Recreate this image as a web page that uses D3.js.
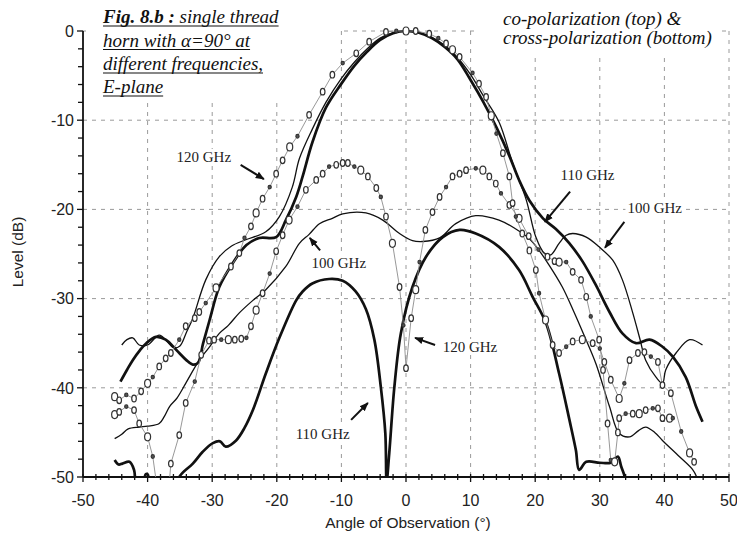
<!DOCTYPE html>
<html>
<head>
<meta charset="utf-8">
<script src="https://cdn.jsdelivr.net/npm/d3@7"></script>
<style>
body { margin: 0; background: #fff; }
</style>
</head>
<body>
<svg id="chart" width="737" height="536"></svg>
<script>
// tick labels
var angleTicks = [-50, -40, -30, -20, -10, 0, 10, 20, 30, 40, 50];
var levelTicks = [0, -10, -20, -30, -40, -50];

// co-polarization, [angle (deg), level (dB)]
var co110 = [[-44.2,-39.3],[-43.2,-38],[-42.3,-36.9],[-41.2,-35.8],[-40.2,-35.0],[-38.7,-34.3],[-37.2,-34.6],
    [-36,-35.4],[-35.1,-36.1],[-34,-36.9],[-33,-37.4],[-32.2,-37.2],[-31.4,-35],[-30.4,-32.4],[-28.9,-28.7],
    [-26.8,-26.0],[-24.7,-24.0],[-22.7,-23.2],[-20.1,-23.1],[-18.6,-21.2],[-17,-18.6],[-16,-16.3],[-14.5,-12.5],
    [-12.4,-8.6],[-10,-5.9],[-8,-3.9],[-6,-2.3],[-4,-1.0],[-2,-0.25],[0,0],[2,-0.2],[4,-0.8],[6,-1.8],[8,-3.2],
    [10,-5.5],[12,-8.0],[14,-10.8],[16,-14],[17.5,-16.7],[19.1,-19],[21.2,-21],[23.2,-22.2],[25.3,-23.8],
    [27.3,-25.8],[29.4,-28.5],[31.5,-31.5],[33.5,-33.9],[35.6,-35],[37.7,-34.6],[39.7,-35.4],[41.3,-36.5],
    [43.3,-38.8],[44.9,-42.1],[45.9,-43.8]];
var co100 = [[-44,-35.2],[-43.2,-34.6],[-42.3,-34.4],[-41.3,-35.2],[-40,-35.2],[-38.2,-34.1],[-37,-34.8],
    [-36,-35.5],[-35,-35.3],[-34,-33.8],[-33,-32.2],[-31,-27.9],[-28.9,-25.3],[-27,-24.1],[-24.8,-23.4],
    [-21.7,-22.5],[-19.6,-20.8],[-17.6,-17.5],[-16.5,-14.3],[-14.5,-11],[-12.4,-8],[-10,-5.3],[-8,-3.5],
    [-6,-2.0],[-4,-0.8],[-2,-0.2],[0,0],[2,-0.2],[4,-0.7],[6,-1.6],[8,-3],[10,-4.9],[12,-7.3],[14.4,-10.2],
    [16.5,-14.8],[18.6,-18.9],[20.1,-23.1],[21.4,-24.9],[22.4,-25.1],[23.7,-23.8],[24.8,-22.9],[25.8,-22.7],
    [27.9,-23.1],[29.9,-24.2],[32,-25.7],[33.5,-27.9],[35.1,-31.6],[36.2,-34.5],[37.1,-36.9],[38.7,-38.8],
    [39.7,-39.5],[40.2,-38.0],[41.8,-36.1],[43.9,-34.6],[45.9,-35.2]];
var co120 = [[-45.1,-41],[-44.4,-41.4],[-43.3,-40.8],[-42.1,-41.2],[-41,-40.4],[-40,-39.5],[-39.2,-38.8],
    [-38.2,-37.6],[-37.2,-36.7],[-36.4,-36.1],[-35.1,-34.6],[-34.1,-33.1],[-32.7,-32.2],[-32,-31.5],[-31,-30.5],
    [-29.4,-28.8],[-27.1,-26.4],[-25.8,-24.9],[-25,-23.2],[-24,-21.9],[-23.2,-20.4],[-22.2,-18.8],[-21.1,-17.5],
    [-20.1,-16],[-19.1,-14.5],[-18,-13],[-16.8,-11.8],[-15,-9.4],[-12.9,-6.8],[-11.4,-4.9],[-9.8,-3.6],
    [-7.7,-2.5],[-5.7,-1.2],[-3.1,-0.1],[-1.5,0],[0,0],[1.5,0],[3.6,-0.3],[5,-0.8],[6.2,-1.4],[7.2,-2.1],
    [8.3,-2.9],[10.3,-4.7],[11.3,-5.9],[12.4,-7.4],[13.2,-9.5],[14,-11.5],[15,-13.7],[16,-16.3],[16.5,-19.3],
    [17,-20.8],[18,-22.7],[19.1,-24.6],[20.1,-26.8],[20.6,-29.4],[21.6,-32.4],[22.7,-35.2],[23.7,-36.1],
    [24.8,-35.4],[25.8,-34.8],[27.3,-34.6],[28.9,-35],[30,-35.6],[30.7,-37.1],[31.7,-39.1],[33,-41.2],
    [33.8,-39.5],[34.6,-36.9],[35.9,-36.1],[36.9,-36],[37.9,-36.5],[39,-37.1],[39.7,-39.7],[41,-40.6],
    [42.6,-44.9],[43.9,-47.3],[44.6,-48.3]];

// cross-polarization
var cross110 = [[-45.1,-48.1],[-44.5,-48.6],[-43.9,-48.5],[-42.8,-48.3],[-42.1,-49.2],[-41.7,-51],[-40.8,-51],
    [-40.3,-49.7],[-40,-49.7],[-39.6,-51],[-38,-53],[-36,-53],[-35.1,-50],[-33,-48.5],[-31.5,-47.2],
    [-29.9,-46.2],[-28.8,-46],[-27.9,-46.6],[-26.3,-45.9],[-25,-44.5],[-23.7,-42.5],[-21.7,-38.4],[-19.6,-34.4],
    [-17,-30.2],[-16,-29.2],[-14.5,-28.3],[-11.9,-27.8],[-9.8,-28.0],[-7.8,-29.2],[-6.2,-31.2],[-4.9,-34.6],
    [-3.9,-39.9],[-3.2,-45.1],[-3.0,-50.5],[-2.6,-47.4],[-1.8,-39.9],[-0.8,-33.9],[1,-28.7],[3.1,-25.3],
    [5.7,-23.1],[8.3,-22.3],[10.8,-22.7],[14.4,-24.2],[17.5,-26.8],[19.6,-29.8],[21.7,-32.8],[23.7,-38.4],
    [25.3,-43.6],[26.3,-47],[26.8,-49.2],[27.9,-48.3],[30,-48.4],[31.7,-48.4],[32.8,-47.7],[33.3,-48.8],
    [33.8,-49.8],[34.3,-51]];
var cross100 = [[-45.1,-45.7],[-44,-45.2],[-43,-44.6],[-41.3,-44.4],[-40,-44.3],[-38.2,-44.0],[-37.4,-43.2],
    [-36.6,-42.1],[-35.5,-41.2],[-34.1,-39.5],[-32,-36.9],[-30.5,-35.5],[-28.9,-33.9],[-27.5,-33],[-25.8,-31.6],
    [-23.7,-30.2],[-21.7,-29.0],[-18.6,-26.4],[-16.5,-23.8],[-15,-22.8],[-13.4,-21.6],[-11.4,-21],[-9.8,-20.5],
    [-6.2,-20.4],[-3.6,-21.2],[-1,-22.7],[1,-23.5],[2.6,-23.6],[5.2,-23.2],[7.7,-21.6],[10.8,-20.7],
    [14.4,-21.2],[17,-22.2],[19.1,-23.3],[20.5,-24.5],[22.2,-26.3],[24.2,-28.7],[26,-31.5],[27.5,-34],
    [29.4,-37.3],[31.5,-42.1],[33,-45.1],[34.6,-45.5],[36,-44.8],[37.1,-44.4],[38.5,-45],[39.7,-45.9],
    [42.3,-47.7],[44.4,-49.2],[45,-50]];
var cross120 = [[-45.1,-43],[-44.4,-42.7],[-43.3,-42.1],[-42.1,-42.5],[-41.3,-44],[-40,-45.5],[-39.2,-47.7],
    [-38.7,-50.3],[-37.6,-53],[-36.6,-50.3],[-36.4,-48.5],[-35.1,-45.3],[-34.1,-41.7],[-32.7,-39.3],
    [-31.7,-36.3],[-30.5,-34.7],[-29.7,-34.6],[-28.6,-34.6],[-27.5,-34.6],[-26.5,-34.6],[-25.5,-34.5],
    [-24.7,-34.4],[-24,-33.1],[-23.2,-31.3],[-22.2,-29.4],[-21.1,-27.2],[-20.1,-24.7],[-19.1,-22.9],
    [-18.1,-21.2],[-16.8,-19.7],[-15.5,-17.8],[-13.9,-16.7],[-12.9,-16],[-11.9,-15.2],[-10.8,-15],[-9.8,-14.8],
    [-9,-14.8],[-8,-15.2],[-7,-15.6],[-5.9,-16.3],[-4.6,-17.6],[-3.9,-18.6],[-3.1,-20.8],[-2.1,-23.8],
    [-1,-28.7],[-0.4,-33],[0,-37.8],[0.8,-32.2],[1.5,-29],[2.1,-25.9],[3,-22.3],[4.1,-20.3],[5.2,-18.6],
    [6.2,-17.5],[7.2,-16.3],[8.3,-16],[9.3,-15.6],[10.8,-15.4],[11.9,-15.6],[12.9,-16.3],[13.9,-17.1],
    [14.7,-18.2],[16,-19.5],[17.5,-21],[19,-23],[20.5,-24.5],[21.9,-25.3],[23,-25.8],[23.7,-25.9],[24.8,-25.9],
    [25.8,-27],[27.1,-27.9],[27.9,-29.8],[28.6,-32],[29.9,-34.6],[30.5,-38],[31.2,-44],[31.7,-48.1],
    [32.3,-48.3],[32.8,-45],[33,-43.4],[34,-42.9],[35.1,-42.9],[36.1,-42.9],[37.1,-42.5],[38.2,-42.3],
    [39,-42.3],[39.7,-43.4],[40.8,-43.4],[41.3,-43.4]];

var svg = d3.select("svg#chart");

var x = d3.scaleLinear().domain([-50, 50]).range([83, 729]),
    y = d3.scaleLinear().domain([-50, 0]).range([477, 31]);

var sans = "'Liberation Sans', Arial, sans-serif",
    serif = "'Liberation Serif', 'Times New Roman', serif";

svg.append("defs").append("clipPath").attr("id", "plot")
    .append("rect").attr("x", x(-50)).attr("y", 20)
    .attr("width", x(50) - x(-50)).attr("height", y(-50) - 20);

svg.append("defs").append("marker").attr("id", "head")
    .attr("viewBox", "0 0 10 10").attr("refX", 9).attr("refY", 5)
    .attr("markerWidth", 9).attr("markerHeight", 9).attr("markerUnits", "userSpaceOnUse")
    .attr("orient", "auto")
    .append("path").attr("d", "M0,1 L10,5 L0,9 Z").attr("fill", "#111");

// grid
var grid = svg.append("g").attr("stroke", "#9a9a9a").attr("stroke-width", 1)
    .attr("stroke-dasharray", "4,5");
grid.selectAll("line.v").data(angleTicks.filter(d => d > -50)).enter().append("line")
    .attr("x1", d => x(d)).attr("x2", d => x(d))
    .attr("y1", y(0)).attr("y2", y(-50));
grid.selectAll("line.h").data(levelTicks.filter(d => d > -50)).enter().append("line")
    .attr("x1", x(-50)).attr("x2", x(50))
    .attr("y1", d => y(d)).attr("y2", d => y(d));

// white boxes behind the notes
svg.append("rect").attr("x", 86).attr("y", 0).attr("width", 253).attr("height", 101).attr("fill", "#fff");
svg.append("rect").attr("x", 478).attr("y", 0).attr("width", 244).attr("height", 58).attr("fill", "#fff");

var labelBg = svg.append("g");

// axes
var minorY = d3.range(-50, 0.1, 2);
svg.append("g").selectAll("line").data(minorY).enter().append("line")
    .attr("x1", d => x(-50) - (d % 10 === 0 ? 6 : 5)).attr("x2", x(-50))
    .attr("y1", d => y(d)).attr("y2", d => y(d))
    .attr("stroke", "#111").attr("stroke-width", 1.3);
var minorX = d3.range(-50, 50.1, 2);
svg.append("g").selectAll("line").data(minorX).enter().append("line")
    .attr("x1", d => x(d)).attr("x2", d => x(d))
    .attr("y1", d => y(-50) - 3).attr("y2", d => y(-50) + (d % 10 === 0 ? 5 : 3))
    .attr("stroke", "#111").attr("stroke-width", 1.3);
svg.append("line").attr("x1", x(-50)).attr("x2", x(-50)).attr("y1", y(0)).attr("y2", y(-50))
    .attr("stroke", "#111").attr("stroke-width", 1.8);
svg.append("line").attr("x1", x(-50)).attr("x2", x(50)).attr("y1", y(-50)).attr("y2", y(-50))
    .attr("stroke", "#111").attr("stroke-width", 1.8);

svg.append("g").selectAll("text").data(levelTicks).enter().append("text")
    .attr("x", 74).attr("y", d => y(d)).attr("dy", "0.36em")
    .attr("text-anchor", "end").attr("font-family", sans).attr("font-size", 16)
    .attr("fill", "#222").text(d => d);
svg.append("g").selectAll("text").data(angleTicks).enter().append("text")
    .attr("x", d => x(d)).attr("y", 506)
    .attr("text-anchor", "middle").attr("font-family", sans).attr("font-size", 16)
    .attr("fill", "#222").text(d => d);

svg.append("text").attr("x", 408).attr("y", 528).attr("text-anchor", "middle")
    .attr("font-family", sans).attr("font-size", 15.5).attr("fill", "#222")
    .text("Angle of Observation (°)");
svg.append("text").attr("transform", "translate(23,252) rotate(-90)").attr("text-anchor", "middle")
    .attr("font-family", sans).attr("font-size", 15.5).attr("fill", "#222")
    .text("Level (dB)");

// curves
var plot = svg.append("g").attr("clip-path", "url(#plot)");

var smooth = d3.line().x(d => x(d[0])).y(d => y(d[1])).curve(d3.curveCatmullRom.alpha(0.5));
var straight = d3.line().x(d => x(d[0])).y(d => y(d[1]));

function solid(data, width) {
    plot.append("path").datum(data).attr("d", smooth)
        .attr("fill", "none").attr("stroke", "#111")
        .attr("stroke-width", width).attr("stroke-linejoin", "round");
}

function circles(data) {
    plot.append("path").datum(data).attr("d", straight)
        .attr("fill", "none").attr("stroke", "#8c8c8c").attr("stroke-width", 0.9);
    var g = plot.append("g");
    g.selectAll("ellipse").data(data.filter(d => d[1] > -50)).enter().append("ellipse")
        .attr("cx", d => x(d[0])).attr("cy", d => y(d[1]))
        .attr("rx", (d, i) => i % 4 === 2 ? 1.6 : i % 5 === 0 ? 3 : 2.3)
        .attr("ry", (d, i) => i % 4 === 2 ? 1.8 : i % 5 === 0 ? 4 : 3.3)
        .attr("fill", (d, i) => i % 4 === 2 ? "#555" : "#fff")
        .attr("stroke", "#333").attr("stroke-width", 1.2);
}

solid(cross100, 1.3);
solid(co100, 1.3);
solid(cross110, 2.7);
solid(co110, 2.7);
circles(cross120);
circles(co120);

// notes
var title = svg.append("g").attr("font-family", serif).attr("font-style", "italic")
    .attr("font-size", 19).attr("fill", "#111");
var t1 = title.append("text").attr("x", 103).attr("y", 23);
t1.append("tspan").attr("font-weight", "bold").text("Fig. 8.b :");
t1.append("tspan").text(" single thread");
title.append("text").attr("x", 103).attr("y", 46.5).text("horn with α=90° at");
title.append("text").attr("x", 103).attr("y", 70).text("different frequencies,");
title.append("text").attr("x", 103).attr("y", 93).text("E-plane");
title.selectAll("text").each(function() {
    var w = this.getComputedTextLength(),
        ty = +d3.select(this).attr("y") + 3;
    title.append("line").attr("x1", 103).attr("x2", 103 + w)
        .attr("y1", ty).attr("y2", ty).attr("stroke", "#111").attr("stroke-width", 1.2);
});

var note = svg.append("g").attr("font-family", serif).attr("font-style", "italic")
    .attr("font-size", 19).attr("fill", "#111");
note.append("text").attr("x", 503).attr("y", 25).text("co-polarization (top) &");
note.append("text").attr("x", 503).attr("y", 44).text("cross-polarization (bottom)");

// frequency labels with arrows: label centre, arrow start, arrow tip (angle, dB)
var labels = [
    { text: "120 GHz", at: [-31.3, -14.1], from: [-25.6, -15.0], to: [-22.0, -16.6] },
    { text: "110 GHz", at: [28.1, -16.1], from: [25.4, -18.0], to: [21.5, -21.4] },
    { text: "100 GHz", at: [38.5, -19.8], from: [33.8, -21.4], to: [30.8, -24.3] },
    { text: "100 GHz", at: [-10.4, -26.0], from: [-13.3, -24.6], to: [-14.9, -23.2] },
    { text: "120 GHz", at: [9.9, -35.4], from: [4.5, -35.2], to: [1.4, -34.4] },
    { text: "110 GHz", at: [-12.9, -45.1], from: [-8.5, -43.6], to: [-5.9, -41.7] }
];
var lab = svg.append("g");
labels.forEach(function(l) {
    var t = lab.append("text").attr("x", x(l.at[0])).attr("y", y(l.at[1])).attr("dy", "0.35em")
        .attr("text-anchor", "middle").attr("font-family", serif).attr("font-size", 15)
        .attr("fill", "#222").text(l.text);
    var b = t.node().getBBox();
    labelBg.append("rect").attr("x", b.x - 2).attr("y", b.y).attr("width", b.width + 4)
        .attr("height", b.height).attr("fill", "#fff");
    lab.append("line").attr("x1", x(l.from[0])).attr("y1", y(l.from[1]))
        .attr("x2", x(l.to[0])).attr("y2", y(l.to[1]))
        .attr("stroke", "#111").attr("stroke-width", 2).attr("marker-end", "url(#head)");
});
</script>
</body>
</html>
